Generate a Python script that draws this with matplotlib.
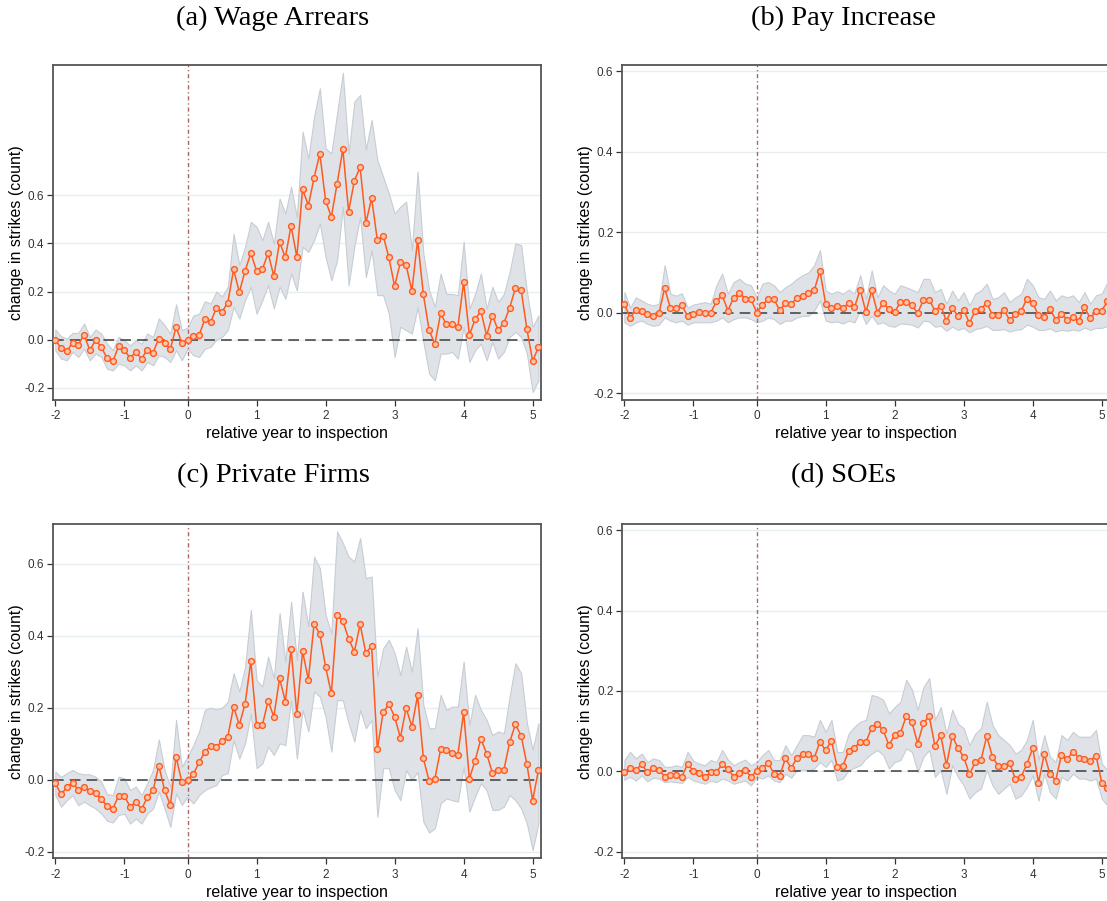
import matplotlib
matplotlib.use("Agg")
import matplotlib.pyplot as plt

plt.rcParams['font.family'] = ['Liberation Sans', 'DejaVu Sans']

# relative month to inspection (x axis), ticks labelled in years
months = list(range(-23, 62))
tick_pos = [-23, -11, 0, 12, 24, 36, 48, 60]
tick_lab = ['-2', '-1', '0', '1', '2', '3', '4', '5']
ytick_vals = [-0.2, 0.0, 0.2, 0.4, 0.6]

# (a) Wage Arrears
a_est = [0.0, -0.036, -0.048, -0.013, -0.022, 0.021, -0.044, -0.003, -0.030, -0.078, -0.091, -0.028,
         -0.045, -0.075, -0.053, -0.079, -0.042, -0.054, 0.004, -0.013, -0.040, 0.053, -0.014, 0.0,
         0.016, 0.018, 0.085, 0.072, 0.131, 0.116, 0.154, 0.292, 0.197, 0.286, 0.360, 0.286, 0.292,
         0.360, 0.264, 0.406, 0.342, 0.474, 0.344, 0.626, 0.558, 0.674, 0.774, 0.578, 0.511, 0.649,
         0.792, 0.533, 0.661, 0.717, 0.485, 0.589, 0.413, 0.433, 0.342, 0.222, 0.322, 0.310, 0.203,
         0.414, 0.188, 0.039, -0.018, 0.109, 0.063, 0.067, 0.053, 0.239, 0.019, 0.085, 0.118, 0.017,
         0.100, 0.039, 0.069, 0.132, 0.214, 0.206, 0.044, -0.089, -0.032]
a_hi = [0.042, 0.014, 0.004, 0.028, 0.028, 0.067, 0.011, 0.042, 0.025, -0.017, -0.044, 0.011,
        -0.003, -0.024, -0.003, -0.017, 0.025, 0.011, 0.088, 0.060, 0.025, 0.147, 0.039, 0.050,
        0.100, 0.107, 0.160, 0.150, 0.200, 0.180, 0.220, 0.44, 0.31, 0.386, 0.49, 0.47, 0.414, 0.49,
        0.40, 0.587, 0.525, 0.636, 0.51, 0.865, 0.754, 0.928, 1.046, 0.796, 0.775, 0.942, 1.11, 0.775,
        0.99, 1.018, 0.79, 0.914, 0.747, 0.678, 0.608, 0.525, 0.553, 0.574, 0.372, 0.699, 0.358, 0.206,
        0.136, 0.275, 0.19, 0.19, 0.185, 0.407, 0.129, 0.19, 0.275, 0.129, 0.22, 0.157, 0.19, 0.282,
        0.40, 0.393, 0.2, 0.053, 0.1]
a_lo = [-0.044, -0.079, -0.086, -0.051, -0.072, -0.038, -0.086, -0.058, -0.072, -0.121, -0.128, -0.100,
        -0.107, -0.128, -0.107, -0.128, -0.093, -0.107, -0.065, -0.072, -0.093, -0.044, -0.086, -0.038,
        -0.065, -0.072, -0.038, -0.030, 0.000, 0.011, 0.040, 0.136, 0.088, 0.164, 0.22, 0.108, 0.164,
        0.226, 0.13, 0.22, 0.17, 0.275, 0.205, 0.386, 0.365, 0.414, 0.483, 0.344, 0.247, 0.33, 0.553,
        0.226, 0.386, 0.51, 0.26, 0.372, 0.185, 0.185, 0.108, -0.072, 0.053, 0.039, 0.025, 0.136, -0.01,
        -0.142, -0.169, -0.058, -0.058, -0.051, -0.079, 0.053, -0.093, -0.044, -0.017, -0.086, -0.01,
        -0.079, -0.051, 0.011, 0.032, 0.011, -0.058, -0.218, -0.17]

# (b) Pay Increase
b_est = [0.022, -0.013, 0.007, 0.003, -0.003, -0.008, -0.002, 0.061, 0.011, 0.011, 0.018, -0.009,
         -0.003, 0.002, 0.0, -0.001, 0.028, 0.043, 0.005, 0.037, 0.050, 0.034, 0.034, 0.0,
         0.019, 0.033, 0.033, 0.006, 0.023, 0.022, 0.036, 0.042, 0.048, 0.055, 0.104, 0.021, 0.012,
         0.016, 0.012, 0.023, 0.013, 0.057, 0.001, 0.055, 0.0, 0.025, 0.008, 0.002, 0.026, 0.026,
         0.018, -0.001, 0.032, 0.032, 0.005, 0.017, -0.021, 0.011, -0.008, 0.006, -0.026, 0.005,
         0.009, 0.024, -0.006, -0.006, 0.007, -0.019, -0.004, 0.004, 0.035, 0.024, -0.007, -0.010,
         0.009, -0.018, -0.003, -0.018, -0.012, -0.021, 0.014, -0.014, 0.003, 0.005, 0.028]
b_hi = [0.051, 0.012, 0.038, 0.030, 0.022, 0.018, 0.022, 0.118, 0.047, 0.042, 0.048, 0.012,
        0.020, 0.023, 0.026, 0.022, 0.068, 0.097, 0.047, 0.076, 0.084, 0.072, 0.068, 0.038,
        0.072, 0.076, 0.068, 0.051, 0.063, 0.072, 0.084, 0.093, 0.100, 0.118, 0.155, 0.055, 0.047,
        0.053, 0.047, 0.057, 0.048, 0.093, 0.034, 0.105, 0.038, 0.068, 0.055, 0.047, 0.068, 0.063,
        0.057, 0.051, 0.084, 0.084, 0.051, 0.059, 0.022, 0.055, 0.030, 0.051, 0.018, 0.047, 0.055,
        0.072, 0.034, 0.038, 0.051, 0.026, 0.038, 0.047, 0.084, 0.068, 0.038, 0.034, 0.055, 0.030,
        0.043, 0.038, 0.043, 0.026, 0.051, 0.022, 0.043, 0.047, 0.076]
b_lo = [-0.024, -0.033, -0.024, -0.020, -0.028, -0.033, -0.030, -0.012, -0.020, -0.024, -0.020, -0.030,
        -0.024, -0.024, -0.024, -0.024, -0.020, -0.012, -0.024, -0.016, -0.012, -0.012, -0.016, -0.024,
        -0.020, -0.012, -0.016, -0.028, -0.020, -0.020, -0.012, -0.008, -0.008, 0.005, 0.030, -0.020,
        -0.024, -0.022, -0.027, -0.020, -0.024, 0.005, -0.028, -0.008, -0.028, -0.024, -0.033, -0.035,
        -0.027, -0.028, -0.030, -0.037, -0.020, -0.022, -0.035, -0.033, -0.045, -0.035, -0.043, -0.038,
        -0.049, -0.041, -0.038, -0.033, -0.043, -0.043, -0.041, -0.047, -0.043, -0.041, -0.030, -0.035,
        -0.043, -0.043, -0.039, -0.047, -0.043, -0.045, -0.042, -0.045, -0.037, -0.043, -0.038, -0.038,
        -0.033]

# (c) Private Firms
c_est = [-0.009, -0.041, -0.021, -0.008, -0.029, -0.021, -0.032, -0.038, -0.053, -0.074, -0.081, -0.045,
         -0.045, -0.075, -0.062, -0.082, -0.049, -0.030, 0.039, -0.029, -0.071, 0.064, -0.006, 0.0,
         0.015, 0.048, 0.077, 0.094, 0.091, 0.107, 0.120, 0.203, 0.152, 0.211, 0.329, 0.151, 0.151,
         0.219, 0.175, 0.282, 0.217, 0.363, 0.182, 0.357, 0.278, 0.433, 0.405, 0.313, 0.240, 0.457,
         0.441, 0.392, 0.356, 0.432, 0.352, 0.372, 0.085, 0.187, 0.210, 0.175, 0.117, 0.199, 0.147,
         0.235, 0.059, -0.004, 0.003, 0.084, 0.083, 0.074, 0.070, 0.187, 0.003, 0.053, 0.114, 0.072,
         0.019, 0.027, 0.027, 0.104, 0.154, 0.122, 0.043, -0.058, 0.026]
c_hi = [0.022, 0.008, 0.018, 0.027, 0.018, 0.015, 0.015, 0.008, -0.006, -0.040, -0.043, 0.008,
        0.004, -0.029, -0.019, -0.043, -0.010, 0.027, 0.112, 0.027, -0.020, 0.166, 0.036, 0.064,
        0.096, 0.134, 0.194, 0.200, 0.196, 0.200, 0.217, 0.296, 0.245, 0.314, 0.472, 0.277, 0.259,
        0.342, 0.282, 0.463, 0.328, 0.495, 0.333, 0.523, 0.426, 0.620, 0.588, 0.458, 0.407, 0.690,
        0.658, 0.620, 0.607, 0.672, 0.560, 0.565, 0.287, 0.365, 0.389, 0.352, 0.291, 0.370, 0.300,
        0.421, 0.208, 0.143, 0.143, 0.236, 0.194, 0.203, 0.203, 0.328, 0.152, 0.236, 0.194, 0.166,
        0.124, 0.134, 0.129, 0.231, 0.324, 0.296, 0.157, 0.083, 0.157]
c_lo = [-0.043, -0.075, -0.057, -0.043, -0.071, -0.061, -0.071, -0.080, -0.094, -0.114, -0.119, -0.098,
        -0.095, -0.122, -0.108, -0.122, -0.094, -0.080, -0.033, -0.080, -0.131, -0.038, -0.070, -0.047,
        -0.066, -0.043, -0.029, -0.021, -0.015, 0.013, 0.018, 0.110, 0.059, 0.101, 0.184, 0.032, 0.045,
        0.092, 0.069, 0.101, 0.096, 0.221, 0.059, 0.194, 0.134, 0.245, 0.231, 0.175, 0.078, 0.221,
        0.221, 0.157, 0.106, 0.194, 0.143, 0.166, -0.103, 0.032, 0.032, -0.029, -0.057, 0.027, -0.001,
        0.022, -0.117, -0.147, -0.135, -0.066, -0.052, -0.057, -0.061, 0.036, -0.089, -0.047, -0.010,
        -0.029, -0.084, -0.084, -0.075, -0.043, -0.057, -0.080, -0.122, -0.196, -0.122]

# (d) SOEs
d_est = [-0.003, 0.009, 0.002, 0.018, -0.003, 0.008, 0.004, -0.013, -0.009, -0.009, -0.013, 0.018,
         0.0, -0.005, -0.014, -0.002, -0.003, 0.018, 0.005, -0.013, -0.004, 0.003, -0.013, 0.0,
         0.008, 0.021, -0.006, -0.012, 0.032, 0.008, 0.033, 0.044, 0.043, 0.033, 0.073, 0.052, 0.076,
         0.011, 0.014, 0.051, 0.059, 0.073, 0.073, 0.108, 0.118, 0.102, 0.065, 0.090, 0.095, 0.137,
         0.122, 0.069, 0.120, 0.137, 0.063, 0.090, 0.015, 0.088, 0.058, 0.035, -0.007, 0.022, 0.028,
         0.087, 0.036, 0.013, 0.014, 0.020, -0.020, -0.013, 0.018, 0.058, -0.029, 0.043, -0.007, -0.023,
         0.041, 0.030, 0.049, 0.034, 0.031, 0.026, 0.039, -0.028, -0.041]
d_hi = [0.028, 0.048, 0.032, 0.044, 0.023, 0.032, 0.028, 0.011, 0.011, 0.015, 0.011, 0.048,
        0.026, 0.019, 0.015, 0.028, 0.023, 0.053, 0.029, 0.015, 0.023, 0.029, 0.015, 0.023,
        0.040, 0.053, 0.028, 0.028, 0.065, 0.040, 0.065, 0.090, 0.090, 0.086, 0.128, 0.098, 0.128,
        0.048, 0.048, 0.094, 0.111, 0.123, 0.128, 0.190, 0.186, 0.178, 0.144, 0.160, 0.173, 0.228,
        0.203, 0.153, 0.210, 0.232, 0.128, 0.160, 0.094, 0.153, 0.119, 0.107, 0.065, 0.094, 0.107,
        0.173, 0.115, 0.090, 0.078, 0.065, 0.044, 0.053, 0.078, 0.128, 0.028, 0.090, 0.036, 0.023,
        0.090, 0.078, 0.098, 0.086, 0.086, 0.086, 0.103, 0.019, 0.003]
d_lo = [-0.021, -0.014, -0.023, -0.010, -0.025, -0.016, -0.018, -0.027, -0.025, -0.027, -0.029, -0.014,
        -0.023, -0.027, -0.031, -0.023, -0.027, -0.018, -0.023, -0.031, -0.027, -0.023, -0.035, -0.014,
        -0.018, -0.010, -0.023, -0.027, -0.006, -0.016, 0.003, 0.004, 0.003, 0.007, 0.023, 0.011, 0.028,
        -0.023, -0.018, 0.003, 0.009, 0.015, 0.032, 0.044, 0.053, 0.040, 0.007, 0.023, 0.028, 0.057,
        0.048, -0.002, 0.036, 0.053, -0.014, 0.003, -0.056, 0.015, -0.014, -0.035, -0.068, -0.052,
        -0.043, 0.003, -0.035, -0.056, -0.043, -0.031, -0.068, -0.060, -0.039, -0.010, -0.073, -0.006,
        -0.052, -0.068, -0.014, -0.023, -0.006, -0.018, -0.018, -0.023, -0.018, -0.068, -0.085]

W, H = 1107, 901
fig = plt.figure(figsize=(W / 100, H / 100), dpi=100)


def add_axes(left, top, width=488, height=335):
    return fig.add_axes([left / W, 1 - (top + height) / H, width / W, height / H])


def draw_panel(ax, est, lo, hi, ylim):
    ax.set_xlim(-23.45, 61.4)
    ax.set_ylim(*ylim)
    for y in ytick_vals:
        ax.axhline(y, color='#e6eeef', lw=1.0, zorder=0)
    ax.fill_between(months, lo, hi, facecolor='#dfe3e8', edgecolor='#c7cdd5', lw=0.8, zorder=1)
    ax.axhline(0, color='#3c3c3c', lw=1.1, dashes=(7, 4), zorder=2)
    ax.axvline(0, color='#a86868', lw=1.0, dashes=(3, 2, 1, 2), zorder=2)
    ax.plot(months, est, color='#ff5a1f', lw=1.1, marker='o', ms=4.2,
            mfc='#ffc2a5', mec='#ff5a1f', mew=1.0, zorder=3)
    ax.set_xticks(tick_pos)
    ax.set_xticklabels(tick_lab)
    ax.set_yticks(ytick_vals)
    ax.set_yticklabels(['%.1f' % v for v in ytick_vals])
    ax.tick_params(axis='both', labelsize=8.5, colors='#333333', direction='out', length=4, width=0.9)
    ax.tick_params(axis='y', pad=2)
    for s in ax.spines.values():
        s.set_color('#555555')
        s.set_linewidth(1.3)
    ax.set_xlabel('relative year to inspection', fontsize=11.5, labelpad=3)
    ax.set_ylabel('change in strikes (count)', fontsize=11.5)
    ax.yaxis.set_label_coords(-0.059, 0.5)


ax_a = add_axes(52.7, 64.7)
draw_panel(ax_a, a_est, a_lo, a_hi, (-0.25, 1.144))
ax_b = add_axes(621.8, 64.7)
draw_panel(ax_b, b_est, b_lo, b_hi, (-0.2166, 0.6166))
ax_c = add_axes(52.7, 524, height=334.3)
draw_panel(ax_c, c_est, c_lo, c_hi, (-0.2186, 0.711))
ax_d = add_axes(621.8, 524, height=334.3)
draw_panel(ax_d, d_est, d_lo, d_hi, (-0.2166, 0.6155))

title_font = dict(family=['Liberation Serif', 'DejaVu Serif'], fontsize=20.5, ha='center', va='center')
fig.text(273 / W, 1 - 18 / H, '(a) Wage Arrears', **title_font)
fig.text(843 / W, 1 - 18 / H, '(b) Pay Increase', **title_font)
fig.text(273 / W, 1 - 476 / H, '(c) Private Firms', **title_font)
fig.text(843 / W, 1 - 476 / H, '(d) SOEs', **title_font)

fig.savefig('out.png', dpi=100, facecolor='white')
